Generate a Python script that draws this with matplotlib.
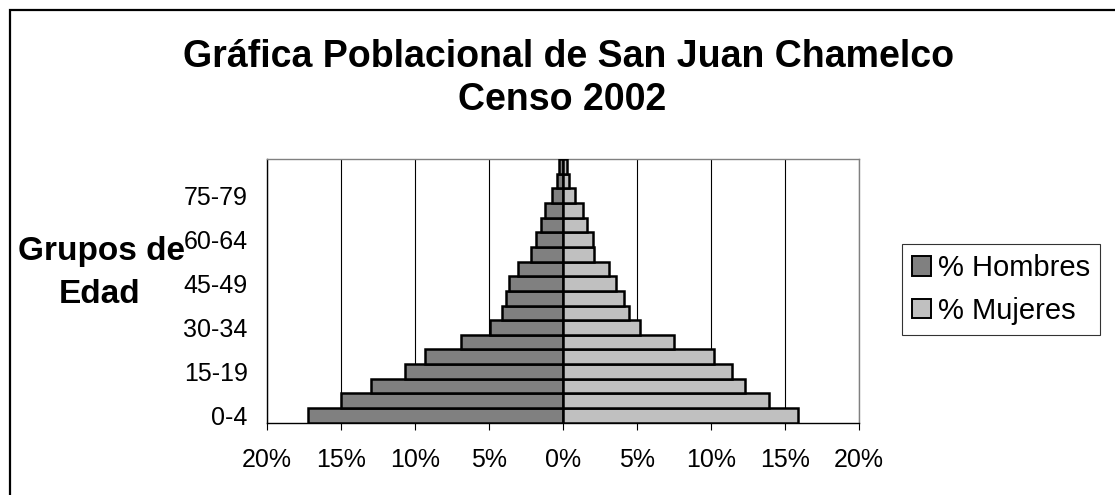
import matplotlib
matplotlib.use("Agg")
import matplotlib.pyplot as plt
from matplotlib.patches import Rectangle, Patch
from matplotlib.ticker import FixedLocator, FuncFormatter

plt.rcParams['font.family'] = ['Liberation Sans', 'DejaVu Sans']

age_groups = ["0-4", "5-9", "10-14", "15-19", "20-24", "25-29", "30-34", "35-39",
              "40-44", "45-49", "50-54", "55-59", "60-64", "65-69", "70-74",
              "75-79", "80-84", "85+"]
hombres = [17.2, 15.0, 13.0, 10.7, 9.3, 6.9, 4.9, 4.15, 3.85, 3.65, 3.07, 2.19,
           1.80, 1.47, 1.22, 0.72, 0.40, 0.25]
mujeres = [15.9, 13.95, 12.3, 11.45, 10.2, 7.5, 5.2, 4.45, 4.1, 3.6, 3.08, 2.1,
           2.03, 1.62, 1.37, 0.8, 0.42, 0.25]
shown_labels = ["0-4", "15-19", "30-34", "45-49", "60-64", "75-79"]
x_ticks = [-20, -15, -10, -5, 0, 5, 10, 15, 20]

title_lines = ["Gráfica Poblacional de San Juan Chamelco", "Censo 2002"]
ylabel_lines = ["Grupos de", "Edad"]
series_names = ["% Hombres", "% Mujeres"]
colors = ["#808080", "#C0C0C0"]

W, H = 1115, 495
fig = plt.figure(figsize=(W / 100, H / 100), dpi=100)
fig.patch.set_facecolor("white")

def fx(px):
    return px / W

def fy(py):
    return 1 - py / H

# outer chart border (extends beyond right/bottom edges)
fig.add_artist(Rectangle((fx(9.5), -0.1), 1.2, fy(9.7) + 0.1,
                         transform=fig.transFigure, fill=False,
                         edgecolor="black", linewidth=1.6, zorder=0))

left, right, top, bottom = 267, 859, 159, 422.7
ax = fig.add_axes([fx(left), fy(bottom), (right - left) / W, (bottom - top) / H])

y = list(range(len(age_groups)))
ax.barh(y, [-v for v in hombres], height=1.0, color=colors[0],
        edgecolor="black", linewidth=1.8, zorder=3, label=series_names[0])
ax.barh(y, mujeres, height=1.0, color=colors[1],
        edgecolor="black", linewidth=1.8, zorder=3, label=series_names[1])

ax.set_xlim(-20, 20)
ax.set_ylim(-0.5, len(age_groups) - 0.5)

ax.xaxis.set_major_locator(FixedLocator(x_ticks))
ax.xaxis.set_major_formatter(FuncFormatter(lambda v, p: f"{abs(int(round(v)))}%"))
ax.grid(axis="x", color="black", linewidth=0.8, zorder=1)

ytick_pos = [age_groups.index(l) for l in shown_labels]
ax.set_yticks(ytick_pos)
ax.set_yticklabels(shown_labels)

ax.tick_params(axis="x", labelsize=18, length=5, width=0.8, pad=13, direction="out")
ax.tick_params(axis="y", labelsize=18, length=0, pad=14)

for s in ["top", "right"]:
    ax.spines[s].set_color("#808080")
    ax.spines[s].set_linewidth(1.0)
for s in ["left", "bottom"]:
    ax.spines[s].set_color("black")
    ax.spines[s].set_linewidth(1.0)

fig.text(fx(569), fy(67), title_lines[0], ha="center", va="baseline",
         fontsize=27, fontweight="bold")
fig.text(fx(562), fy(110), title_lines[1], ha="center", va="baseline",
         fontsize=27, fontweight="bold")
fig.text(fx(101), fy(260), ylabel_lines[0], ha="center", va="baseline",
         fontsize=24, fontweight="bold")
fig.text(fx(100), fy(303), ylabel_lines[1], ha="center", va="baseline",
         fontsize=24, fontweight="bold")

handles = [Patch(facecolor=colors[0], edgecolor="black", linewidth=1.4),
           Patch(facecolor=colors[1], edgecolor="black", linewidth=1.4)]
leg = fig.legend(handles, series_names, loc="upper left",
                 bbox_to_anchor=(fx(901.7), fy(244)), fontsize=21,
                 frameon=True, fancybox=False, edgecolor="black",
                 handlelength=0.65, handleheight=0.65, handletextpad=0.25,
                 borderpad=0.35, labelspacing=0.5, borderaxespad=0)
leg.get_frame().set_linewidth(0.8)

fig.savefig("out.png", dpi=100)
